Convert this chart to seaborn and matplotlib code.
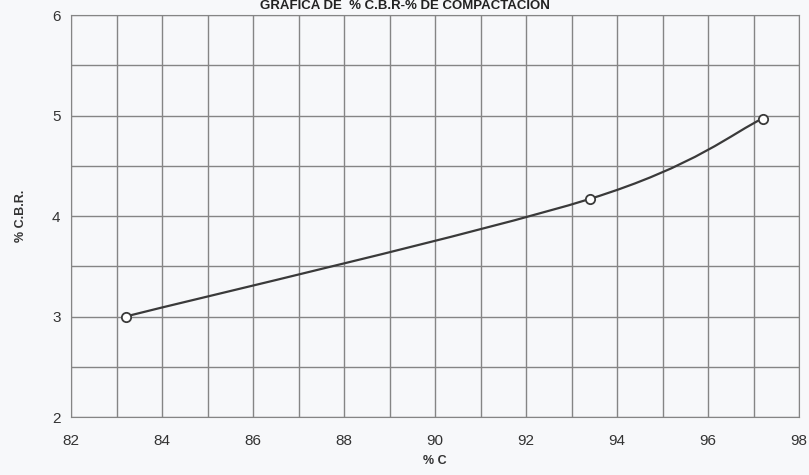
import numpy as np
import seaborn as sns
from matplotlib import pyplot as plt
from matplotlib.path import Path
from matplotlib.patches import PathPatch

# values
compaction = [83.2, 93.4, 97.2]   # % C
cbr = [3.0, 4.17, 4.97]           # % C.B.R.

x_ticks = [82, 84, 86, 88, 90, 92, 94, 96, 98]
y_ticks = [2, 3, 4, 5, 6]

sns.set_style('white')
plt.rcParams['font.family'] = ['Liberation Sans', 'DejaVu Sans']

fig = plt.figure(figsize=(8.09, 4.75), dpi=100)
fig.patch.set_facecolor('#f7f8fa')
ax = fig.add_axes([0.0878, 0.1221, 0.9, 0.8463])
ax.set_facecolor('#f7f8fa')

# smooth line through the points (excel style bezier)
pts = np.column_stack([compaction, cbr])
ext = np.vstack([pts[0], pts, pts[-1]])
verts = [tuple(pts[0])]
codes = [Path.MOVETO]
for i in range(1, len(ext) - 2):
    p0, p1, p2, p3 = ext[i - 1], ext[i], ext[i + 1], ext[i + 2]
    verts += [tuple(p1 + (p2 - p0) / 6), tuple(p2 - (p3 - p1) / 6), tuple(p2)]
    codes += [Path.CURVE4] * 3
ax.add_patch(PathPatch(Path(verts, codes), fill=False, color='#3a3a3a', lw=1.6, zorder=3))

sns.scatterplot(x=compaction, y=cbr, ax=ax, marker='o', s=45, facecolor='white',
                edgecolor='#3a3a3a', linewidth=1.3, zorder=4)

ax.set_xlim(82, 98)
ax.set_ylim(2, 6)
ax.set_xticks(x_ticks)
ax.set_yticks(y_ticks)
ax.set_xticks(np.arange(82, 99, 1), minor=True)
ax.set_yticks(np.arange(2, 6.01, 0.5), minor=True)
ax.grid(which='both', color='#858585', lw=1.0)
ax.tick_params(which='major', length=4, color='#858585', labelsize=11, labelcolor='#333333')
ax.tick_params(axis='x', pad=8)
ax.tick_params(which='minor', length=0)
for s in ax.spines.values():
    s.set_color('#858585')

ax.set_xlabel('% C', fontsize=9, fontweight='bold', color='#333333', labelpad=5)
ax.set_ylabel('% C.B.R.', fontsize=9, fontweight='bold', color='#333333', labelpad=18)

fig.text(0.5, 0.999, 'GRAFICA DE  % C.B.R-% DE COMPACTACION', ha='center', va='top',
         fontsize=9.5, fontweight='bold', color='#222222')

fig.savefig('out.png', dpi=100, facecolor=fig.get_facecolor())
